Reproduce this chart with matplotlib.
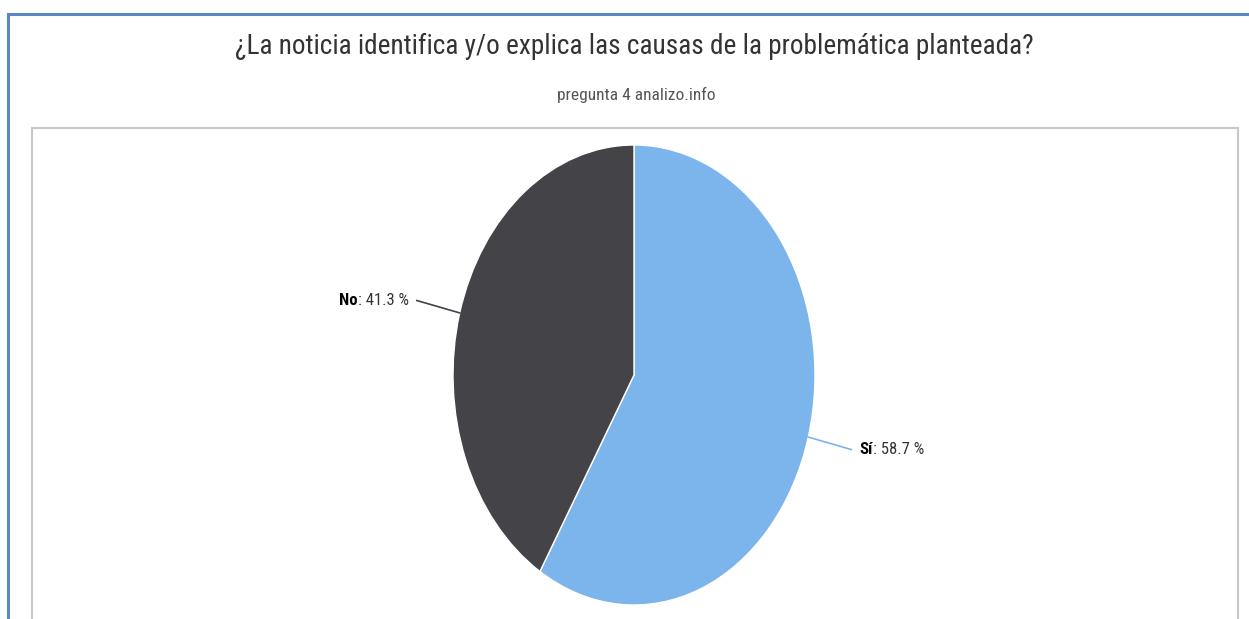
import numpy as np
import matplotlib
matplotlib.use('Agg')
import matplotlib.pyplot as plt
from matplotlib.patches import Rectangle

# --- data ---
labels = ['Sí', 'No']
values = [58.7, 41.3]
colors = ['#7cb5ec', '#434348']
line_colors = ['#7cb5ec', '#434348']

title = '¿La noticia identifica y/o explica las causas de la problemática planteada?'
subtitle = 'pregunta 4 analizo.info'

W, H = 1249, 619
plt.rcParams['font.family'] = ['Roboto Condensed', 'PT Sans Narrow', 'DejaVu Sans']

fig = plt.figure(figsize=(W / 100, H / 100), dpi=100)
fig.patch.set_facecolor('white')

# outer frame (blue) and chart box (grey)
fig.patches.append(Rectangle((8 / W, -0.1), 1.2, (H - 14) / H + 0.1, transform=fig.transFigure,
                             fill=False, edgecolor='#5b87c5', linewidth=2.2))
fig.patches.append(Rectangle((32 / W, -0.1), (1238 - 32) / W, (H - 128) / H + 0.1,
                             transform=fig.transFigure, fill=False,
                             edgecolor='#c8c8c8', linewidth=1.5))

fig.text(634 / W, 1 - 46 / H, title, ha='center', va='center',
         fontsize=19.6, color='#333333')
fig.text(636 / W, 1 - 95 / H, subtitle, ha='center', va='center',
         fontsize=12.5, color='#555555')

# pie axes: radius 1 spans 181 px horizontally and 230 px vertically
cx, cy, rx, ry = 634, 375, 181, 230
ax = fig.add_axes([(cx - rx) / W, (H - cy - ry) / H, 2 * rx / W, 2 * ry / H])

wedges, _ = ax.pie(values, colors=colors, startangle=90, counterclock=False,
                   radius=1, center=(0, 0),
                   wedgeprops=dict(edgecolor='white', linewidth=1))
ax.set_aspect('auto')
ax.set_xlim(-1, 1)
ax.set_ylim(-1, 1)
ax.axis('off')

fs = 12
for w, lab, val, lc in zip(wedges, labels, values, line_colors):
    mid = np.deg2rad((w.theta1 + w.theta2) / 2)
    x0, y0 = np.cos(mid), np.sin(mid)
    side = 1 if x0 > 0 else -1
    x1, y1 = side * 1.2, 1.2 * y0
    ax.plot([x0, x1], [y0, y1], color=lc, linewidth=1.2, clip_on=False)
    tx = x1 + side * 0.045
    if side > 0:
        t = ax.text(tx, y1, lab, ha='left', va='center', fontsize=fs,
                    fontweight='bold', color='#000000', clip_on=False)
        ax.annotate(f': {val} %', xy=(1, 0.5), xycoords=t, ha='left', va='center',
                    fontsize=fs, color='#333333', annotation_clip=False)
    else:
        t = ax.text(tx, y1, f': {val} %', ha='right', va='center', fontsize=fs,
                    color='#333333', clip_on=False)
        ax.annotate(lab, xy=(0, 0.5), xycoords=t, ha='right', va='center',
                    fontsize=fs, fontweight='bold', color='#000000',
                    annotation_clip=False)

fig.savefig('out.png', dpi=100)
